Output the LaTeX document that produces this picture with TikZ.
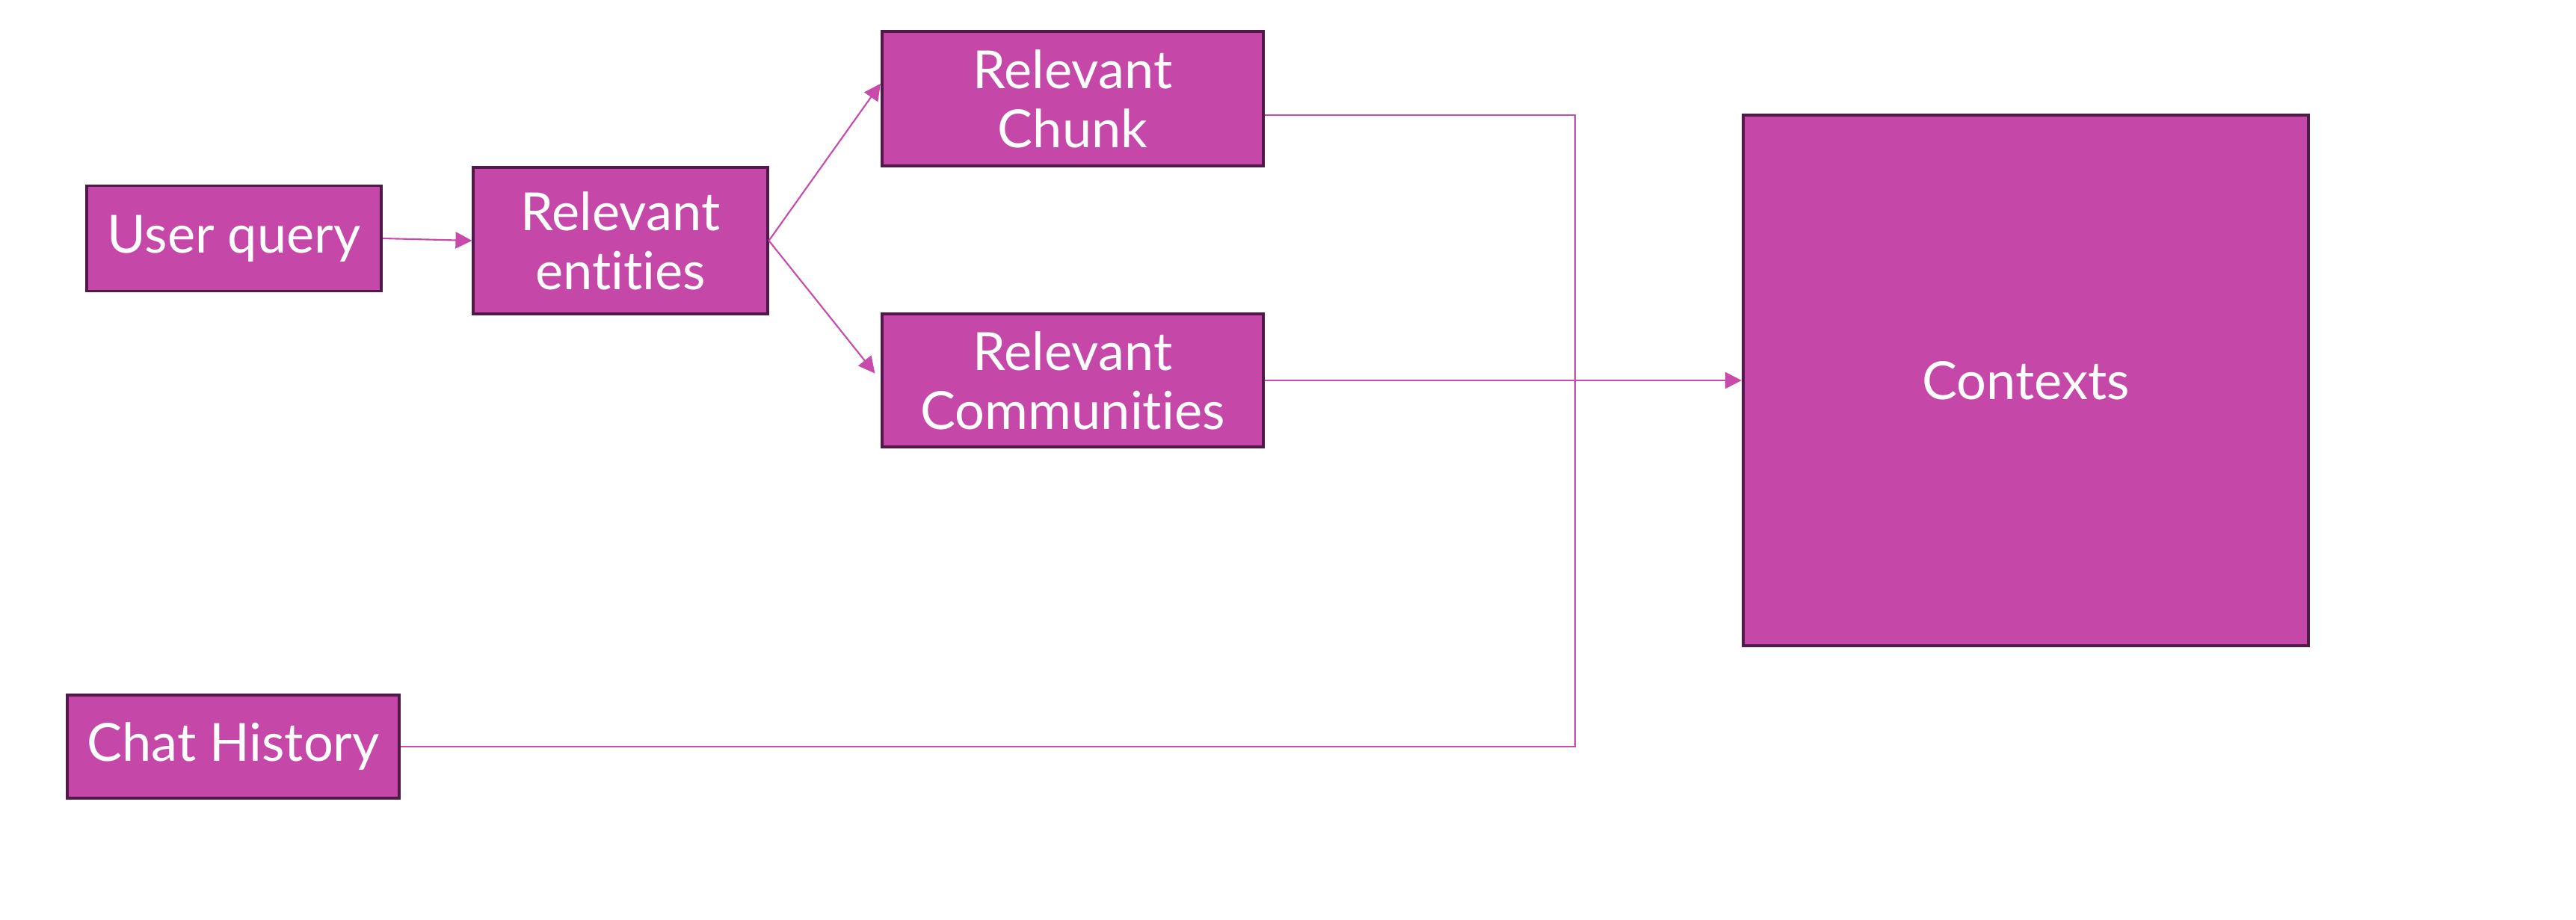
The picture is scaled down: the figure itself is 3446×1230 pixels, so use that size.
\documentclass[tikz,border=0pt]{standalone}
\usepackage{fontspec}
\setmainfont{Lato}[Ligatures={NoCommon}]
\usetikzlibrary{arrows.meta}
\definecolor{boxfill}{HTML}{C548A8}
\definecolor{boxline}{HTML}{4F1A4A}
\definecolor{conn}{HTML}{C84AAA}
\begin{document}
\begin{tikzpicture}[x=0.01cm,y=-0.01cm,
  box/.style={draw=boxline,fill=boxfill,line width=1.1pt,inner sep=0pt,
    text=white,align=center,font=\fontsize{20}{22.5}\selectfont},
  conline/.style={draw=conn,line width=0.6pt},
  arr/.style={conline,-{Triangle[length=0.22cm,width=0.22cm]}}]
\useasboundingbox (0,0) rectangle (3446,1230);
\node[box,minimum width=3.94cm,minimum height=1.41cm] (uq) at (313,319) {User query};
\node[box,minimum width=3.93cm,minimum height=1.96cm] (ent) at (830,322) {Relevant\\entities};
\node[box,minimum width=5.10cm,minimum height=1.80cm] (chunk) at (1435,132) {Relevant\\Chunk};
\node[box,minimum width=5.10cm,minimum height=1.78cm] (comm) at (1435,509) {Relevant\\Communities};
\node[box,minimum width=4.44cm,minimum height=1.38cm] (chat) at (312,999) {Chat History};
\node[box,minimum width=7.56cm,minimum height=7.10cm] (ctx) at (2710,509) {Contexts};
\coordinate (join) at (2107,509);
\coordinate (chunkout) at ([yshift=-0.22cm]chunk.east);
\draw[arr] (uq.east) -- (ent.west);
\draw[arr] (ent.east) -- ([yshift=0.2cm]chunk.west);
\draw[arr,shorten >=0.12cm] (ent.east) -- (comm.west);
\draw[conline] (chunkout) -| (join);
\draw[conline] (chat.east) -| (join);
\draw[arr] (comm.east) -- (ctx.west);
\end{tikzpicture}
\end{document}
